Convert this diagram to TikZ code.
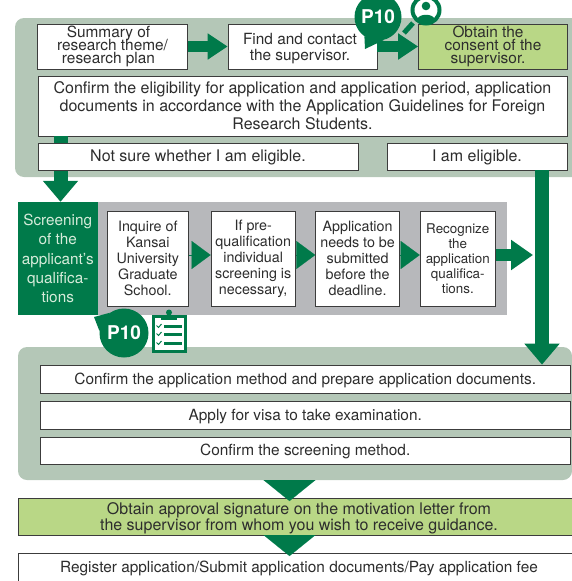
\documentclass[tikz,border=0pt]{standalone}
\usepackage{fontspec}
\setmainfont{TeX Gyre Heros}
\usetikzlibrary{arrows.meta}
\definecolor{mygreen}{RGB}{0, 122, 74}
\definecolor{mypanel}{RGB}{180, 199, 183}
\definecolor{mylime}{RGB}{185, 215, 134}
\definecolor{mygrey}{RGB}{183, 184, 187}
\definecolor{mytext}{RGB}{45, 45, 45}
\definecolor{myline}{RGB}{60, 60, 60}
\newcommand{\tightlines}{\setlength{\lineskiplimit}{-6pt}}
\tikzstyle{panel} = [rectangle, rounded corners=9pt, fill=mypanel, inner sep=0pt]
\tikzstyle{textbox} = [rectangle, draw=myline, fill=white, text=mytext,
                       align=center, inner sep=0pt, line width=0.7pt,
                       execute at begin node={\tightlines\rule{0pt}{14pt}},
                       font=\fontsize{15.4}{13.3}\selectfont]
\tikzstyle{widebox} = [textbox, font=\fontsize{16}{18}\selectfont]
\tikzstyle{limebox} = [textbox, fill=mylime]
\tikzstyle{tallbox} = [textbox, font=\fontsize{14.3}{16}\selectfont]
\tikzstyle{bararrow} = [line width=11pt, draw=mygreen, -{Triangle[length=20pt, width=25pt]}]
\tikzstyle{longarrow} = [line width=14pt, draw=mygreen, -{Triangle[length=21pt, width=34pt]}]
\tikzstyle{wedge} = [line width=0.1pt, draw=mygreen, -{Triangle[length=19pt, width=28pt]}]
\tikzstyle{bigwedge} = [line width=0.1pt, draw=mygreen, -{Triangle[length=21pt, width=52pt]}]
\tikzstyle{pagebubble} = [circle, fill=mygreen, text=white, inner sep=0pt,
                          minimum size=47pt, font=\fontsize{19}{19}\selectfont\bfseries]

\begin{document}
\begin{tikzpicture}[x=1pt, y=-1pt]

    \clip (0,0) rectangle (572,581);

    % top group
    \node (TopPanel) [panel, minimum width=567pt, minimum height=159pt] at (298.5,97.5) {};

    \node (Summary) [textbox, minimum width=150pt, minimum height=45pt] at (112.5,46.5)
        {Summary of\hspace*{8pt}\\research theme/\hspace*{8pt}\\research plan\hspace*{8pt}};

    \node (Find) [textbox, minimum width=149pt, minimum height=45pt, text depth=-5pt,
        font=\fontsize{15.4}{16}\selectfont] at (302.5,46.5)
        {Find and contact\hspace*{5pt}\\the supervisor.\hspace*{5pt}};

    \node (Consent) [limebox, minimum width=149pt, minimum height=45pt] at (493,46.5)
        {Obtain the\hspace*{10pt}\\consent of the\hspace*{10pt}\\supervisor.\hspace*{10pt}};

    \node (Confirm) [widebox, minimum width=529pt, minimum height=60pt] at (302.5,106)
        {Confirm the eligibility for application and application period, application\\documents in accordance with the Application Guidelines for Foreign\\Research Students.};

    \node (Screening) [rectangle, fill=mygreen, text={rgb,255:red,214;green,236;blue,218},
        minimum width=79.5pt, minimum height=113pt, inner sep=0pt, align=center,
        execute at begin node={\rule{0pt}{14pt}},
        font=\fontsize{15.3}{19.2}\selectfont] at (57.75,258.5)
        {Screening\\of the\\applicant's\\qualifica-\\tions};

    \draw [longarrow] (Confirm.south -| 60.5,0) -- (Screening.north -| 60.5,0);

    \node (NotSure) [widebox, minimum width=320pt, minimum height=27pt] at (198,156.5)
        {Not sure whether I am eligible.};

    \node (Eligible) [widebox, minimum width=180pt, minimum height=27pt] at (477,156.5)
        {I am eligible.};

    \draw [bararrow] (Summary) -- (Find);
    \draw [bararrow] (Find) -- (Consent);

    % screening strip
    \node (Strip) [rectangle, fill=mygrey, minimum width=409pt, minimum height=113pt, inner sep=0pt] at (302,258.5) {};

    \node (Inquire) [tallbox, minimum width=81.5pt, minimum height=95pt] at (147.8,258.5)
        {Inquire of\\Kansai\\University\\Graduate\\School.};

    \node (PreQual) [tallbox, minimum width=84.5pt, minimum height=95pt] at (253.2,258.5)
        {If pre-\\qualification\\individual\\screening is\\necessary,};

    \node (Deadline) [tallbox, minimum width=84pt, minimum height=95pt] at (357.6,258.5)
        {Application\\needs to be\\submitted\\before the\\deadline.};

    \node (Recognize) [tallbox, minimum width=75.5pt, minimum height=95pt, font=\fontsize{13.4}{15}\selectfont] at (457.8,258.5)
        {Recognize\\the\\application\\qualifica-\\tions.};

    \draw [wedge] ([yshift=3.5pt]Inquire.east) -- ([yshift=3.5pt]PreQual.west);
    \draw [wedge] ([yshift=3.5pt]PreQual.east) -- ([yshift=3.5pt]Deadline.west);
    \draw [wedge] ([yshift=3.5pt]Deadline.east) -- ([yshift=3.5pt]Recognize.west);

    \coordinate (StripEnd) at (533,255);
    \draw [line width=12pt, draw=mygreen, -{Triangle[length=22pt, width=29pt]}] ([yshift=3.5pt]Recognize.east) -- (StripEnd);

    % middle group
    \node (MidPanel) [panel, minimum width=554pt, minimum height=133pt] at (295,413.5) {};

    \node (Method) [textbox, minimum width=529.5pt, minimum height=28pt] at (305.25,379)
        {Confirm the application method and prepare application documents.};

    \node (Visa) [textbox, minimum width=529.5pt, minimum height=28pt] at (305.25,415)
        {Apply for visa to take examination.};

    \node (ScrMethod) [textbox, minimum width=529.5pt, minimum height=27pt] at (305.25,450.5)
        {Confirm the screening method.};

    \coordinate (RightTop) at (542,170);
    \draw [longarrow] (RightTop) -- (RightTop |- Method.north);

    % bottom boxes
    \node (Signature) [limebox, minimum width=562pt, minimum height=37pt, text depth=-2pt,
        font=\fontsize{16}{16}\selectfont] at (299,516.5)
        {Obtain approval signature on the motivation letter from\\the supervisor from whom you wish to receive guidance.};

    \coordinate (Tip1) at (289.5,501);
    \draw [bigwedge] (MidPanel.south -| Tip1) -- (Tip1);

    \node (Register) [textbox, minimum width=562pt, minimum height=28pt] at (299,567)
        {Register application/Submit application documents/Pay application fee};

    \coordinate (Tip2) at (289.5,556);
    \draw [bigwedge] (Signature.south -| Tip2) -- (Tip2);

    % page marks
    \node (PageTop) [pagebubble] at (378,17) {P10};
    \fill [mygreen] (PageTop.235) -- (365,49) -- (PageTop.285) -- cycle;

    \draw [line width=5pt, mygreen] (413,23) -- (404,33);
    \node (Person) [circle, draw=mygreen, fill=white, line width=4pt, minimum size=27pt, inner sep=0pt] at (426,10) {};
    \fill [mygreen] (426,6) circle (4.3pt);
    \fill [mygreen] (417,20) .. controls (418,13) and (434,13) .. (435,20) .. controls (431,24) and (421,24) .. (417,20) -- cycle;

    \node (PageLow) [pagebubble, minimum size=49pt] at (124,333) {P10};
    \fill [mygreen] (PageLow.175) -- (94,317) -- (PageLow.125) -- cycle;

    \node (Clipboard) [rectangle, draw=mygreen, fill=white, line width=2.5pt, minimum width=32pt, minimum height=35pt, inner sep=0pt] at (169.5,334) {};
    \fill [mygreen] (169,312.5) circle (3pt);
    \fill [mygreen] (161,315) rectangle (177,320);
    \foreach \y in {326,334,343} {
        \fill [mygreen] (164,\y-1.5) rectangle (181.5,\y+1.5);
        \draw [mygreen, line width=1pt] (156.5,\y-0.5) -- (158.5,\y+1.5) -- (161.5,\y-2);
    }

\end{tikzpicture}
\end{document}
